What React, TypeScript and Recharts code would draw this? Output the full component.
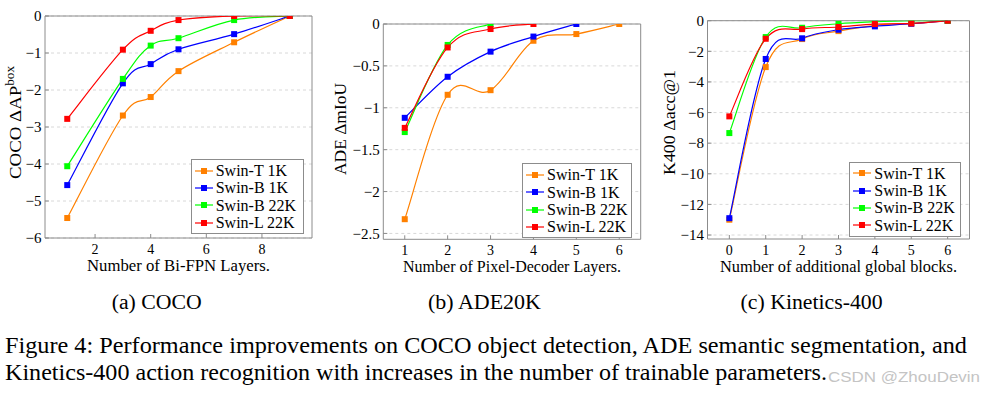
import React from 'react';
import { LineChart, Line, XAxis, YAxis, CartesianGrid, ReferenceArea, Legend } from 'recharts';

// ---------- data ----------
const SERIES_NAMES = ['Swin-T 1K', 'Swin-B 1K', 'Swin-B 22K', 'Swin-L 22K'];
const SERIES_COLORS = ['#ff8000', '#0000ff', '#00ff00', '#ff0000'];

// (a) COCO
const COCO_X = [1, 3, 4, 5, 7, 9];
const COCO_SWIN_T_1K = [-5.46, -2.69, -2.19, -1.49, -0.71, 0];
const COCO_SWIN_B_1K = [-4.57, -1.82, -1.3, -0.9, -0.49, 0];
const COCO_SWIN_B_22K = [-4.06, -1.7, -0.8, -0.6, -0.11, 0];
const COCO_SWIN_L_22K = [-2.78, -0.91, -0.4, -0.11, 0, 0];
const COCO_X_TICKS = [2, 4, 6, 8];
const COCO_Y_TICKS = [-6, -5, -4, -3, -2, -1, 0];

// (b) ADE20K
const ADE_X = [1, 2, 3, 4, 5, 6];
const ADE_SWIN_T_1K = [-2.33, -0.845, -0.79, -0.2, -0.12, 0];
const ADE_SWIN_B_1K = [-1.12, -0.63, -0.33, -0.15, 0];
const ADE_SWIN_B_22K = [-1.29, -0.25, 0];
const ADE_SWIN_L_22K = [-1.24, -0.28, -0.06, 0];
const ADE_X_TICKS = [1, 2, 3, 4, 5, 6];
const ADE_Y_TICKS = [-2.5, -2, -1.5, -1, -0.5, 0];

// (c) Kinetics-400
const K400_X = [0, 1, 2, 3, 4, 5, 6];
const K400_SWIN_T_1K = [-13.0, -3.03, -1.2, -0.68, -0.3, -0.17, 0];
const K400_SWIN_B_1K = [-12.9, -2.5, -1.15, -0.59, -0.37, -0.2, 0];
const K400_SWIN_B_22K = [-7.34, -1.07, -0.46, -0.2, -0.07, 0, 0];
const K400_SWIN_L_22K = [-6.25, -1.18, -0.55, -0.41, -0.22, -0.18, 0];
const K400_X_TICKS = [0, 1, 2, 3, 4, 5, 6];
const K400_Y_TICKS = [-14, -12, -10, -8, -6, -4, -2, 0];

const SUB_CAPTIONS = ['(a) COCO', '(b) ADE20K', '(c) Kinetics-400'];
const CAPTION_LINE_1 = 'Figure 4: Performance improvements on COCO object detection, ADE semantic segmentation, and';
const CAPTION_LINE_2 = 'Kinetics-400 action recognition with increases in the number of trainable parameters.';
const WATERMARK = 'CSDN @ZhouDevin';

const zip = (xs: number[], ys: number[]) => ys.map((y, i) => ({ x: xs[i], y }));

const SERIF = '"Liberation Serif", "Times New Roman", serif';
const FRAME = '#8c8c8c';

// TikZ-like smooth curve (cardinal spline through the points)
const smoothCurve = (k: number) => (context: any) => {
  let pts: [number, number][] = [];
  return {
    areaStart() {},
    areaEnd() {},
    lineStart() {
      pts = [];
    },
    lineEnd() {
      const n = pts.length;
      if (!n) return;
      context.moveTo(pts[0][0], pts[0][1]);
      for (let i = 0; i < n - 1; i++) {
        const p0 = pts[Math.max(i - 1, 0)];
        const p1 = pts[i];
        const p2 = pts[i + 1];
        const p3 = pts[Math.min(i + 2, n - 1)];
        context.bezierCurveTo(
          p1[0] + k * (p2[0] - p0[0]),
          p1[1] + k * (p2[1] - p0[1]),
          p2[0] - k * (p3[0] - p1[0]),
          p2[1] - k * (p3[1] - p1[1]),
          p2[0],
          p2[1]
        );
      }
    },
    point(x: number, y: number) {
      pts.push([+x, +y]);
    },
  };
};
const CURVE = smoothCurve(0.18);

const fmt = (v: number) => String(v).replace('-', '\u2212');

const LegendBox = ({ width }: { width: number }) => (
  <div
    style={{
      width,
      boxSizing: 'border-box',
      border: `1px solid ${FRAME}`,
      background: '#fff',
      padding: '2px 3px',
      fontFamily: SERIF,
      fontSize: 16,
      lineHeight: '17.3px',
      color: '#000',
    }}
  >
    {SERIES_NAMES.map((n, i) => (
      <div key={n} style={{ display: 'flex', alignItems: 'center', whiteSpace: 'nowrap', height: 17.3 }}>
        <svg width={18} height={8} style={{ flex: 'none' }}>
          <line x1={0} x2={18} y1={4} y2={4} stroke={SERIES_COLORS[i]} strokeWidth={1.2} />
          <rect x={6} y={1} width={6} height={6} fill={SERIES_COLORS[i]} />
        </svg>
        <span style={{ marginLeft: 3 }}>{n}</span>
      </div>
    ))}
  </div>
);

type ChartCfg = {
  left: number;
  width: number;
  margin: { top: number; right: number; bottom: number; left: number };
  yAxisWidth: number;
  xDomain: [number, number];
  yDomain: [number, number];
  xTicks: number[];
  yTicks: number[];
  series: { x: number; y: number }[][];
  xLabel: string;
  xLabelLen: number;
  yLabel: React.ReactNode;
  yLabelLen: number;
  yLabelX: number;
  yLabelY: number;
  legendLeft: number;
  legendTop: number;
  legendWidth: number;
};

const CHARTS: ChartCfg[] = [
  {
    left: 0,
    width: 330,
    margin: { top: 16, right: 18, bottom: 12, left: 5 },
    yAxisWidth: 40,
    xDomain: [0.2, 9.8],
    yDomain: [-6, 0],
    xTicks: COCO_X_TICKS,
    yTicks: COCO_Y_TICKS,
    series: [COCO_SWIN_T_1K, COCO_SWIN_B_1K, COCO_SWIN_B_22K, COCO_SWIN_L_22K].map((s) => zip(COCO_X, s)),
    xLabel: 'Number of Bi-FPN Layers.',
    xLabelLen: 183,
    yLabel: (
      <>
        <tspan>COCO ΔAP</tspan>
        <tspan dy="-0.45em" fontSize="0.7em">box</tspan>
      </>
    ),
    yLabelLen: 113,
    yLabelX: 15,
    yLabelY: 122.5,
    legendLeft: 190.7,
    legendTop: 159,
    legendWidth: 113,
  },
  {
    left: 330,
    width: 320,
    margin: { top: 24, right: 9.3, bottom: 10.7, left: 8.3 },
    yAxisWidth: 45,
    xDomain: [0.5, 6.5],
    yDomain: [-2.57, 0],
    xTicks: ADE_X_TICKS,
    yTicks: ADE_Y_TICKS,
    series: [ADE_SWIN_T_1K, ADE_SWIN_B_1K, ADE_SWIN_B_22K, ADE_SWIN_L_22K].map((s) => zip(ADE_X, s)),
    xLabel: 'Number of Pixel-Decoder Layers.',
    xLabelLen: 218,
    yLabel: <tspan>ADE ΔmIoU</tspan>,
    yLabelLen: 92,
    yLabelX: 10,
    yLabelY: 129,
    legendLeft: 192,
    legendTop: 163.3,
    legendWidth: 110,
  },
  {
    left: 650,
    width: 332,
    margin: { top: 20.7, right: 12.5, bottom: 11, left: 12.5 },
    yAxisWidth: 45,
    xDomain: [-0.6, 6.6],
    yDomain: [-14.26, 0],
    xTicks: K400_X_TICKS,
    yTicks: K400_Y_TICKS,
    series: [K400_SWIN_T_1K, K400_SWIN_B_1K, K400_SWIN_B_22K, K400_SWIN_L_22K].map((s) => zip(K400_X, s)),
    xLabel: 'Number of additional global blocks.',
    xLabelLen: 237,
    yLabel: <tspan>K400 Δacc@1</tspan>,
    yLabelLen: 105,
    yLabelX: 19,
    yLabelY: 122.5,
    legendLeft: 199.3,
    legendTop: 161.7,
    legendWidth: 111.5,
  },
];

const Panel = ({ c }: { c: ChartCfg }) => {
  const height = 280;
  return (
    <div style={{ position: 'absolute', left: c.left, top: 0, width: c.width, height }}>
      <LineChart width={c.width} height={height} margin={c.margin}>
        <CartesianGrid vertical={false} stroke="#d8d8d8" strokeDasharray="3 3" horizontalValues={c.yTicks} />
        <XAxis
          dataKey="x"
          type="number"
          domain={c.xDomain}
          allowDataOverflow
          ticks={c.xTicks}
          interval={0}
          height={30}
          axisLine={false}
          tickLine={{ stroke: FRAME }}
          tickSize={-4}
          tickMargin={10}
          tick={{ fill: '#000', fontFamily: SERIF, fontSize: 14 }}
          label={{
            content: (p: any) => {
              const vb = p.viewBox || {};
              return (
                <text
                  x={vb.x + vb.width / 2}
                  y={vb.y + 33}
                  textAnchor="middle"
                  fontFamily={SERIF}
                  fontSize={16}
                  fill="#000"
                  textLength={c.xLabelLen}
                  lengthAdjust="spacingAndGlyphs"
                >
                  {c.xLabel}
                </text>
              );
            },
          }}
        />
        <YAxis
          type="number"
          domain={c.yDomain}
          allowDataOverflow
          ticks={c.yTicks}
          interval={0}
          width={c.yAxisWidth}
          axisLine={false}
          tickLine={{ stroke: FRAME }}
          tickSize={-4}
          tickMargin={7.5}
          tickFormatter={fmt}
          tick={{ fill: '#000', fontFamily: SERIF, fontSize: 15 }}
          label={{
            content: () => (
              <text
                x={c.yLabelX}
                y={c.yLabelY}
                transform={`rotate(-90 ${c.yLabelX} ${c.yLabelY})`}
                textAnchor="middle"
                dominantBaseline="central"
                fontFamily={SERIF}
                fontSize={17}
                fill="#000"
                textLength={c.yLabelLen}
                lengthAdjust="spacingAndGlyphs"
              >
                {c.yLabel}
              </text>
            ),
          }}
        />
        <ReferenceArea
          x1={c.xDomain[0]}
          x2={c.xDomain[1]}
          y1={c.yDomain[0]}
          y2={c.yDomain[1]}
          fill="none"
          fillOpacity={0}
          stroke={FRAME}
          strokeWidth={1}
          ifOverflow="visible"
        />
        {c.series.map((d, i) => (
          <Line
            key={SERIES_NAMES[i]}
            data={d}
            dataKey="y"
            name={SERIES_NAMES[i]}
            type={CURVE as any}
            stroke={SERIES_COLORS[i]}
            strokeWidth={1.2}
            isAnimationActive={false}
            activeDot={false}
            dot={(p: any) => (
              <rect
                key={`${i}-${p.index}`}
                x={p.cx - 3}
                y={p.cy - 3}
                width={6}
                height={6}
                fill={SERIES_COLORS[i]}
              />
            )}
          />
        ))}
        <Legend
          layout="vertical"
          align="center"
          verticalAlign="middle"
          wrapperStyle={{ left: c.legendLeft, top: c.legendTop, width: c.legendWidth, height: 'auto' }}
          content={() => <LegendBox width={c.legendWidth} />}
        />
      </LineChart>
    </div>
  );
};

export default function App() {
  return (
    <div
      style={{
        position: 'absolute',
        left: 0,
        top: 0,
        width: 982,
        height: 397,
        background: '#fff',
        overflow: 'hidden',
      }}
    >
      {CHARTS.map((c, i) => (
        <Panel key={i} c={c} />
      ))}
      <svg
        width={982}
        height={397}
        style={{ position: 'absolute', left: 0, top: 0, pointerEvents: 'none' }}
      >
        <g fontFamily={SERIF} fill="#000">
          <text x={111.7} y={309} fontSize={20} textLength={90} lengthAdjust="spacingAndGlyphs">
            {SUB_CAPTIONS[0]}
          </text>
          <text x={428} y={309} fontSize={20} textLength={113} lengthAdjust="spacingAndGlyphs">
            {SUB_CAPTIONS[1]}
          </text>
          <text x={740.6} y={309} fontSize={20} textLength={142} lengthAdjust="spacingAndGlyphs">
            {SUB_CAPTIONS[2]}
          </text>
          <text x={5} y={353} fontSize={23} textLength={962} lengthAdjust="spacingAndGlyphs">
            {CAPTION_LINE_1}
          </text>
          <text x={5} y={380} fontSize={23} textLength={822} lengthAdjust="spacingAndGlyphs">
            {CAPTION_LINE_2}
          </text>
        </g>
        <text
          x={828}
          y={382}
          fontFamily='"Liberation Sans", Arial, sans-serif'
          fontSize={14}
          fill="#c4c4c4"
          textLength={152}
          lengthAdjust="spacingAndGlyphs"
        >
          {WATERMARK}
        </text>
      </svg>
    </div>
  );
}
